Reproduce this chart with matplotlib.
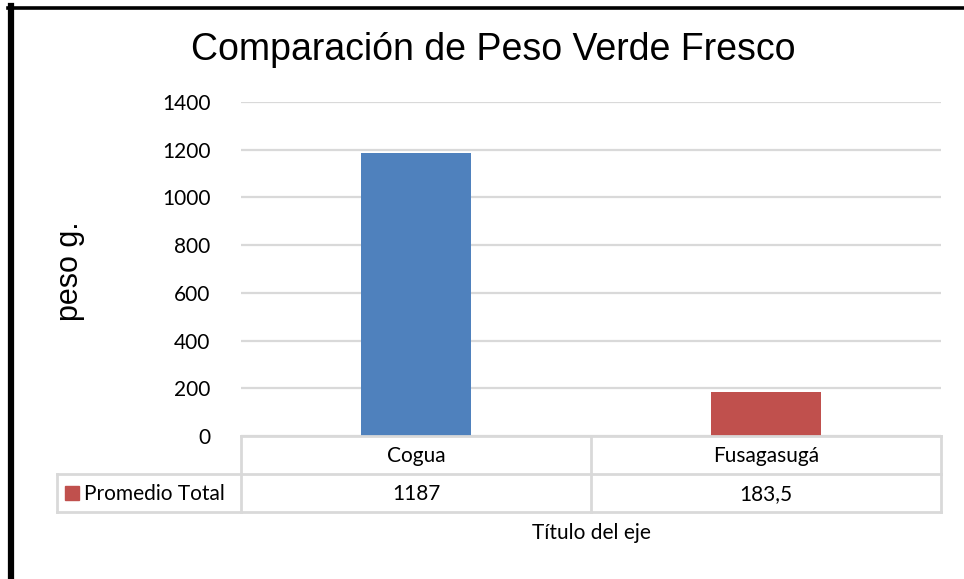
#!/usr/bin/env python3
#coding: utf-8

import matplotlib
matplotlib.use("Agg")
import matplotlib.pyplot as plt
import matplotlib.transforms as mtransforms
from matplotlib.lines import Line2D
from matplotlib.patches import Rectangle

# data
categories = ["Cogua", "Fusagasugá"]
series_name = "Promedio Total"
values = [1187, 183.5]
value_labels = ["1187", "183,5"]
y_ticks = [0, 200, 400, 600, 800, 1000, 1200, 1400]

W, H = 964, 579
BLUE = "#4F81BD"
RED = "#C0504D"
GRID = "#D9D9D9"
BODY_FONT = ["Lato", "DejaVu Sans"]
TITLE_FONT = ["Liberation Sans", "DejaVu Sans"]


def fx(px):
	return px / W


def fy(py):
	return 1 - py / H


fig = plt.figure(figsize=(W / 100, H / 100), dpi=100)
fig.patch.set_facecolor("white")

# plot area in pixel coords of the reference
left, right, top, bottom = 241, 941, 102, 436
ax = fig.add_axes([fx(left), fy(bottom), fx(right - left), (bottom - top) / H])
x = list(range(len(categories)))
ax.bar(x, values, width=0.314, color=[BLUE, RED], zorder=3)
ax.set_xlim(-0.5, len(categories) - 0.5)
ax.set_ylim(0, 1400)
ax.set_yticks(y_ticks)
ax.set_yticklabels([str(t) for t in y_ticks], fontfamily=BODY_FONT, fontsize=15)
ax.tick_params(axis="y", length=0, pad=22)
ax.set_xticks([])
for s in ax.spines.values():
	s.set_visible(False)
ax.yaxis.grid(True, color=GRID, linewidth=1.6, zorder=0)
ax.set_axisbelow(True)

# y axis label
fig.text(fx(70), fy(271), "peso g.", rotation=90, ha="center", va="center",
	fontsize=22, fontfamily=TITLE_FONT)

# title
fig.text(fx(493), fy(50), "Comparación de Peso Verde Fresco", ha="center", va="center",
	fontsize=27, fontfamily=TITLE_FONT)

# data table below the plot
row1_bot, row2_bot, tab_left = 474, 512, 57
lw = 2
def hline(y, x0, x1):
	fig.add_artist(Line2D([fx(x0), fx(x1)], [fy(y), fy(y)], color=GRID, lw=lw))

def vline(xp, y0, y1):
	fig.add_artist(Line2D([fx(xp), fx(xp)], [fy(y0), fy(y1)], color=GRID, lw=lw))

hline(bottom, left, right)
hline(row1_bot, tab_left, right)
hline(row2_bot, tab_left, right)
vline(tab_left, row1_bot, row2_bot)
vline(left, bottom, row2_bot)
vline(right, bottom, row2_bot)
for i in range(1, len(categories)):
	bx = left + (right - left) * i / len(categories)
	vline(bx, bottom, row2_bot)

trans = mtransforms.blended_transform_factory(ax.transData, fig.transFigure)
for i, (cat, lab) in enumerate(zip(categories, value_labels)):
	fig.text(i, fy((bottom + row1_bot) / 2 + 1), cat, transform=trans, ha="center",
		va="center", fontsize=15, fontfamily=BODY_FONT)
	fig.text(i, fy((row1_bot + row2_bot) / 2 + 1), lab, transform=trans, ha="center",
		va="center", fontsize=15, fontfamily=BODY_FONT)

fig.add_artist(Rectangle((fx(65), fy(500)), fx(14), 14 / H, color=RED,
	transform=fig.transFigure))
fig.text(fx(84), fy((row1_bot + row2_bot) / 2 + 1), series_name, ha="left", va="center",
	fontsize=15, fontfamily=BODY_FONT)

fig.text(fx(591), fy(533), "Título del eje", ha="center", va="center",
	fontsize=15, fontfamily=BODY_FONT)

# black frame on the left and top
fig.add_artist(Line2D([fx(10.5), fx(10.5)], [fy(6), 0], color="black", lw=4.5))
fig.add_artist(Line2D([fx(8), 1], [fy(7.5), fy(7.5)], color="black", lw=2.6))

fig.savefig("out.png", dpi=100)
